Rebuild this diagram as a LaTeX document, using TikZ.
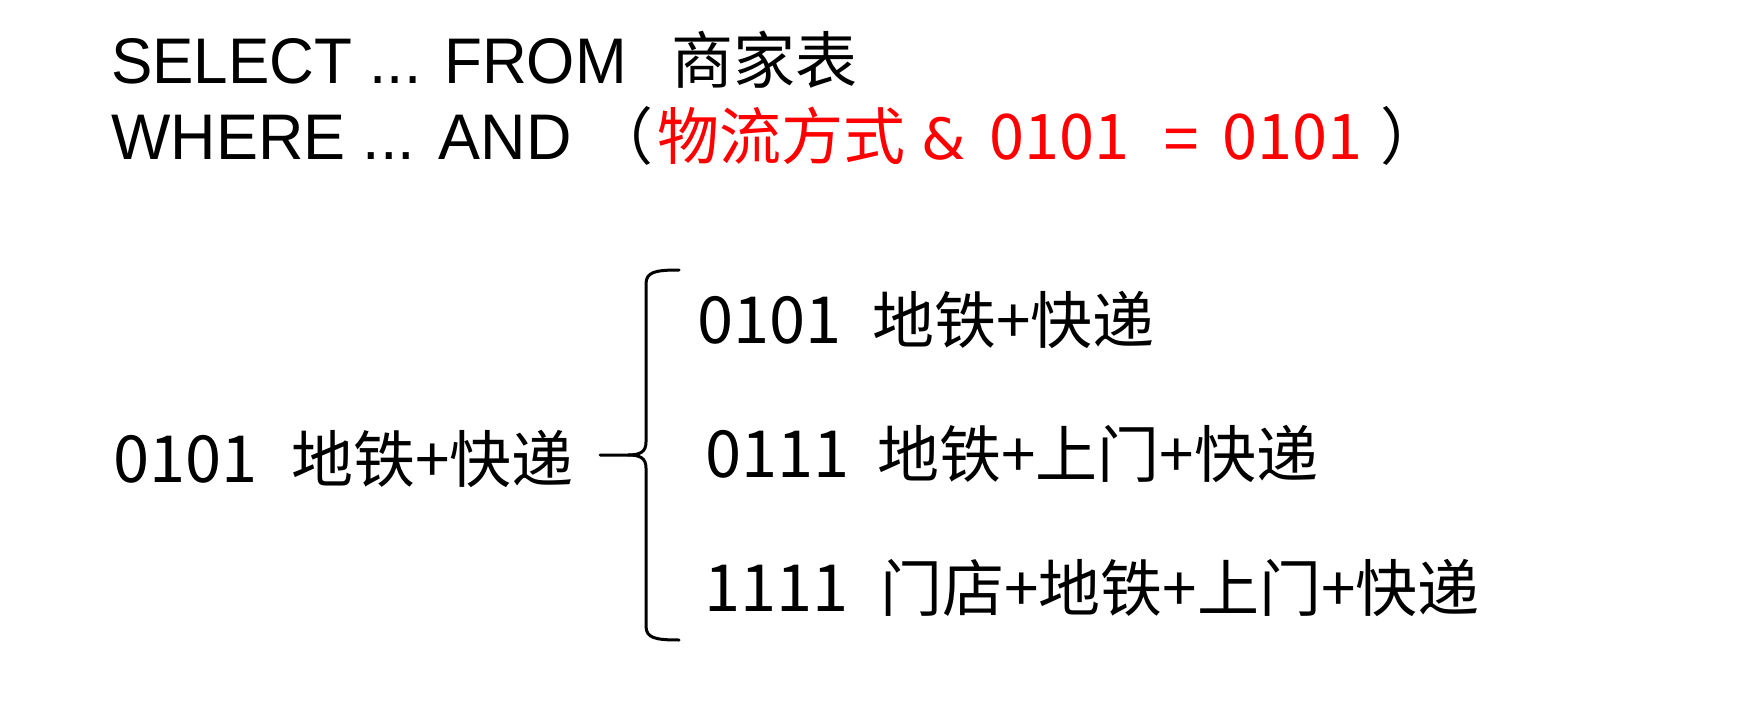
\documentclass[tikz,border=0pt]{standalone}
\usepackage{fontspec}
\setmainfont{Liberation Sans}
\newfontfamily\cjk{Noto Sans CJK SC}
\newfontfamily\digitfont{DejaVu Sans}
\begin{document}
\begin{tikzpicture}[x=1pt,y=-1pt,
  txt/.style={anchor=base west,inner sep=0pt,font=\fontsize{62}{62}\selectfont},
  cj/.style={anchor=base west,inner sep=0pt,font=\cjk\fontsize{62}{62}\selectfont},
  dg/.style={anchor=base west,inner sep=0pt,font=\cjk\fontsize{65}{65}\selectfont},
  rdg/.style={anchor=base west,inner sep=0pt,font=\cjk\fontsize{63}{63}\selectfont},
  ampfont/.style={anchor=base west,inner sep=0pt,font=\digitfont\fontsize{57}{57}\selectfont},
  redtext/.style={text={rgb,255:red,255;green,0;blue,0}},
  bracepath/.style={line width=3pt,line cap=round}]
\useasboundingbox (0,0) rectangle (1740,714);
\fill[white] (0,0) rectangle (1740,714);
% SQL lines
\node[txt,yscale=1.04] (sel) at (111,84) {SELECT ... FROM};
\node[cj] (tab) at (671,84) {商家表};
\node[txt,xscale=1.015,yscale=1.04] (where) at (111,160) {WHERE ... AND};
\node[cj,anchor=base east] (lp) at (654,160) {（};
\node[cj,redtext] (cond) at (657,160) {物流方式};
\node[ampfont,redtext] (amp) at (921,160) {\&};
\node[rdg,redtext] (c1) at (989,160) {0101};
\node[txt,redtext] (eq) at (1163,160) {=};
\node[rdg,redtext] (c2) at (1222,160) {0101};
\node[cj] (rp) at (1380,160) {）};
% left item
\node[dg] (lcode) at (113,482) {0101};
\node[cj] (ltext) at (291,482) {地铁+快递};
% right items
\node[dg] (r1code) at (697,343) {0101};
\node[cj] (r1text) at (872,343) {地铁+快递};
\node[dg] (r2code) at (705,477) {0111};
\node[cj] (r2text) at (877,477) {地铁+上门+快递};
\node[dg] (r3code) at (704,611) {1111};
\node[cj] (r3text) at (880,611) {门店+地铁+上门+快递};
% brace
\coordinate (btop) at (679,270);
\coordinate (bbot) at (679,640);
\coordinate (btip) at (600,455);
\draw[bracepath] (btop) .. controls (655,270) and (646,272) .. (646,284)
  -- (646,442) .. controls (646,452) and (640,455) .. (628,455) -- (btip);
\draw[bracepath] (628,455) .. controls (640,455) and (646,458) .. (646,468)
  -- (646,626) .. controls (646,638) and (655,640) .. (bbot);
\end{tikzpicture}
\end{document}
